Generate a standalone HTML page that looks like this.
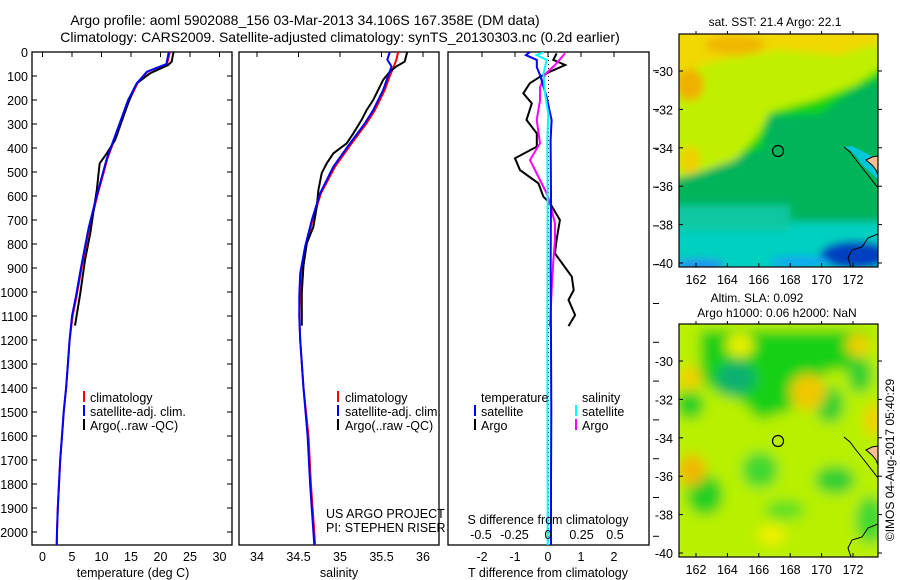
<!DOCTYPE html>
<html><head><meta charset="utf-8"><style>
body{margin:0;background:#fff}
svg{display:block;font-family:"Liberation Sans",sans-serif}
text{fill:#000}
</style></head><body>
<svg id="c" width="900" height="580" viewBox="0 0 900 580">
<defs>
<clipPath id="cp1"><rect x="32" y="52" width="200" height="493"/></clipPath>
<clipPath id="cp2"><rect x="239" y="52" width="200" height="493"/></clipPath>
<clipPath id="cp3"><rect x="448" y="52" width="201" height="493"/></clipPath>
<clipPath id="cm1"><rect x="679" y="34" width="199" height="233"/></clipPath>
<clipPath id="cm2"><rect x="679" y="324" width="199" height="233"/></clipPath>
<filter id="bl" x="-20%" y="-20%" width="140%" height="140%"><feGaussianBlur stdDeviation="4"/></filter>
<filter id="bl2" x="-20%" y="-20%" width="140%" height="140%"><feGaussianBlur stdDeviation="6"/></filter>
</defs>
<text x="305" y="25" font-size="14" text-anchor="middle">Argo profile: aoml 5902088_156 03-Mar-2013 34.106S 167.358E (DM data)</text>
<text x="340" y="42" font-size="14" text-anchor="middle">Climatology: CARS2009. Satellite-adjusted climatology: synTS_20130303.nc (0.2d earlier)</text>

<g id="p1"></g>
<g id="p2"></g>
<g id="p3"></g>

<g>
<g clip-path="url(#cm1)"><g filter="url(#bl)">
<rect x="670" y="25" width="220" height="250" fill="#00b45a"/>
<rect x="670" y="222" width="220" height="50" fill="#00d0c0"/>
<rect x="670" y="205" width="120" height="25" fill="#10c8a0"/>
<ellipse cx="855" cy="255" rx="35" ry="14" fill="#0040c0"/>
<ellipse cx="700" cy="265" rx="25" ry="6" fill="#2090f0"/>
<ellipse cx="800" cy="262" rx="30" ry="6" fill="#10a8f0"/>
<polygon points="670,210 670,175 725,160 762,148 768,116 820,114 850,92 890,75 890,25 670,25" fill="#10d410"/>
<polygon points="670,180 670,25 890,25 890,62 855,85 815,100 770,112 758,135 735,160 700,172" fill="#c0f000"/>
<polygon points="670,25 890,25 890,40 840,55 780,50 720,60 670,75" fill="#f0d800"/>
<ellipse cx="735" cy="45" rx="30" ry="10" fill="#f0b800"/>
<ellipse cx="690" cy="85" rx="14" ry="16" fill="#f0b000"/>
<ellipse cx="690" cy="160" rx="10" ry="14" fill="#f0d000"/>
</g>
<path d="M844,147 L850,150 856,156 862,165 870,172 878,180 878,160 870,155 860,150 852,146 Z" fill="#00c8d8"/>
<path d="M866,160 L872,165 876,170 878,175 878,156 872,157 Z" fill="#f8c090" stroke="#000" stroke-width="1"/>
<path d="M844,147 L850,152 856,160 864,170 878,188" fill="none" stroke="#000" stroke-width="1"/>
<path d="M878,234 L868,238 862,247 852,250 848,258 851,267" fill="none" stroke="#000" stroke-width="1"/>
</g>
<rect x="679" y="34" width="199" height="233" fill="none" stroke="#000" stroke-width="1.2"/>
<circle cx="778" cy="151" r="5.5" fill="none" stroke="#000" stroke-width="1.2"/>
<text x="775" y="26" font-size="12" text-anchor="middle">sat. SST: 21.4 Argo: 22.1</text>
<g id="m1ax"></g>
</g>

<g>
<g clip-path="url(#cm2)"><g filter="url(#bl2)">
<rect x="670" y="315" width="220" height="250" fill="#b8f000"/>
<path d="M700,330 L870,330 860,370 830,370 800,395 790,410 760,420 740,400 720,395 700,380 Z" fill="#18d018"/>
<ellipse cx="736" cy="378" rx="20" ry="16" fill="#10b070"/>
<ellipse cx="690" cy="405" rx="14" ry="14" fill="#20d020"/>
<ellipse cx="830" cy="405" rx="14" ry="18" fill="#30d030"/>
<ellipse cx="705" cy="495" rx="18" ry="20" fill="#20d020"/>
<ellipse cx="760" cy="470" rx="18" ry="18" fill="#40d830"/>
<ellipse cx="835" cy="480" rx="20" ry="14" fill="#30d030"/>
<ellipse cx="785" cy="510" rx="20" ry="10" fill="#60e020"/>
<ellipse cx="860" cy="375" rx="12" ry="18" fill="#30d030"/>
<ellipse cx="870" cy="520" rx="14" ry="24" fill="#40d830"/>
<ellipse cx="808" cy="392" rx="18" ry="18" fill="#f0c800"/>
<ellipse cx="858" cy="345" rx="12" ry="12" fill="#f0d000"/>
<ellipse cx="874" cy="420" rx="10" ry="16" fill="#f0d000"/>
<ellipse cx="692" cy="470" rx="14" ry="16" fill="#f0b800"/>
<ellipse cx="690" cy="378" rx="12" ry="12" fill="#f0d000"/>
<ellipse cx="772" cy="535" rx="14" ry="10" fill="#f0f000"/>
<ellipse cx="740" cy="345" rx="14" ry="12" fill="#e8f000"/>
</g>
<path d="M866,450 L872,455 876,460 878,465 878,446 872,447 Z" fill="#f8c090" stroke="#000" stroke-width="1"/>
<path d="M844,437 L850,442 856,450 864,460 878,478" fill="none" stroke="#000" stroke-width="1"/>
<path d="M878,524 L868,528 862,537 852,540 848,548 851,557" fill="none" stroke="#000" stroke-width="1"/>
</g>
<rect x="679" y="324" width="199" height="233" fill="none" stroke="#000" stroke-width="1.2"/>
<circle cx="778" cy="441" r="5.5" fill="none" stroke="#000" stroke-width="1.2"/>
<text x="757" y="302" font-size="12" text-anchor="middle">Altim. SLA: 0.092</text>
<text x="777" y="317" font-size="12" text-anchor="middle">Argo h1000: 0.06 h2000: NaN</text>
<g id="m2ax"></g>
</g>
<text transform="translate(894,460) rotate(-90)" font-size="12" text-anchor="middle">©IMOS 04-Aug-2017 05:40:29</text>
</svg>
<script>
// ---- data ----
const tempArgoDepth=[0,40,54,89,130,158,214,270,367,422,464,505,575,672,755,867,1005,1140];
const tempArgo=[22.2,21.9,21.3,18.2,16.0,15.4,14.5,13.7,12.3,10.9,9.7,9.5,9.2,8.6,8.1,7.2,6.4,5.5];
const climDepth=[0,50,82,130,200,296,444,597,736,889,1014,1100,1200,1300,1400,1500,1600,1700,1800,1900,2000,2055];
const tempClim=[21.6,21.1,17.8,16.1,14.7,13.2,11.0,9.3,7.9,6.7,5.8,5.1,4.6,4.3,4.0,3.6,3.3,3.0,2.8,2.6,2.45,2.4];
const tempSat=[21.4,21.0,17.7,16.0,14.5,13.1,10.9,9.2,7.8,6.6,5.7,5.0,4.6,4.3,4.0,3.6,3.3,3.0,2.8,2.6,2.45,2.4];
const salArgoDepth=[0,40,60,82,116,158,200,242,283,339,381,422,464,505,575,644,728,797,889,1000,1140];
const salArgo=[35.81,35.78,35.68,35.60,35.52,35.46,35.40,35.32,35.26,35.16,35.08,34.92,34.84,34.78,34.74,34.72,34.68,34.60,34.56,34.54,34.54];
const salDepth=[0,32,60,100,158,242,297,381,478,589,700,811,922,1014,1100,1200,1400,1600,1800,2000,2055];
const salSat=[35.60,35.57,35.62,35.58,35.52,35.40,35.30,35.12,34.92,34.76,34.66,34.58,34.52,34.51,34.51,34.52,34.56,34.61,34.64,34.68,34.69];
const salClim=[35.70,35.68,35.65,35.60,35.54,35.42,35.32,35.14,34.94,34.77,34.67,34.59,34.53,34.52,34.51,34.52,34.56,34.62,34.65,34.69,34.70];
const tdArgoDepth=[6,33,54,82,103,130,172,214,283,339,394,443,492,547,603,630,700,783,839,936,992,1033,1096,1142];
const tdArgo=[0.26,0.16,0.52,0.06,-0.24,-0.55,-0.75,-0.49,-0.65,-0.34,-0.34,-1.0,-0.85,-0.29,-0.14,0.06,0.36,0.26,0.21,0.72,0.78,0.62,0.82,0.62];
const sdArgoDepth=[6,54,92,147,203,283,380,450,506,589,630,714,783,867,978,1144];
const sdArgo=[0.127,0.052,-0.02,-0.06,-0.06,-0.084,-0.06,-0.134,-0.084,-0.01,0.015,0.052,0.052,0.04,0.028,0.015];
const sdSatDepth=[0,13,33,92,175,258,367,600,900,1200,1500,1800,2055];
const sdSat=[-0.03,-0.084,-0.01,-0.035,-0.022,0.002,-0.005,-0.003,-0.004,-0.005,-0.004,-0.003,-0.002];
const tdSatDepth=[0,13,33,63,97,189,283,367,600,900,1200,1500,1800,2055];
const tdSat=[-0.55,-0.67,-0.34,-0.34,-0.24,-0.04,0.11,0.08,0.09,0.08,0.09,0.10,0.09,0.09];
const depthTicks=[0,100,200,300,400,500,600,700,800,900,1000,1100,1200,1300,1400,1500,1600,1700,1800,1900,2000];
const tempTicks=[0,5,10,15,20,25,30];
const salTicks=[34,34.5,35,35.5,36];
const tdTicks=[-2,-1,0,1,2];
const sdTicks=[-0.5,-0.25,0,0.25,0.5];
const sdTickLabels=["-0.5","-0.25","0","0.25","0.5"];
const latTicks=[-30,-32,-34,-36,-38,-40];
const lonTicks=[162,164,166,168,170,172];
// ---- axes ----
const yD=d=>52+d*0.24, xT=t=>42.5+t*5.9, xS=s=>257+(s-34)*83, xTd=t=>548+t*33, xSd=s=>548+s*134;
const lonX=l=>696+(l-162)*15.7, latY=(la,o)=>o+37+(-30-la)*19.2;
const NS='http://www.w3.org/2000/svg';
function mk(tag,at,parent){const e=document.createElementNS(NS,tag);for(const k in at)e.setAttribute(k,at[k]);parent.appendChild(e);return e;}
function line(par,xs,ds,fx,color,name,w){
 const d=xs.map((v,i)=>(i?'L':'M')+fx(v).toFixed(1)+','+yD(ds[i]).toFixed(1)).join(' ');
 const p=mk('path',{d:d,fill:'none',stroke:color,'stroke-width':w||2,'stroke-linejoin':'miter'},par);
 
 
}
function txt(par,x,y,s,anchor,name,size){const t=mk('text',{x:x,y:y,'font-size':size||12,'text-anchor':anchor||'start'},par);t.textContent=s;
 
 return t;}
function frame(par,x,w,cp){
 mk('rect',{x:x,y:52,width:w,height:493,fill:'none',stroke:'#000','stroke-width':1.3},par);
 return mk('g',{'clip-path':'url(#'+cp+')'},par);
}
const p1=document.getElementById('p1'),p2=document.getElementById('p2'),p3=document.getElementById('p3');
// panel 1
const g1=frame(p1,32,200,'cp1');
depthTicks.forEach(d=>{mk('line',{x1:32,x2:37,y1:yD(d),y2:yD(d),stroke:'#000'},p1);mk('line',{x1:227,x2:232,y1:yD(d),y2:yD(d),stroke:'#000'},p1);
 txt(p1,28,yD(d)+5,String(d),'end','depth-tick-label',12.5);});
tempTicks.forEach(t=>{mk('line',{x1:xT(t),x2:xT(t),y1:52,y2:57,stroke:'#000'},p1);txt(p1,xT(t),561,String(t),'middle','temp-tick-label',12.5);});
txt(p1,133,577,'temperature (deg C)','middle','x-axis-title-temperature',12.5);
line(g1,tempClim,climDepth,xT,'#f00','temp-climatology-line');
line(g1,tempArgo,tempArgoDepth,xT,'#000','temp-argo-line');
line(g1,tempSat,climDepth,xT,'#00f','temp-satellite-line');
[['#f00','climatology'],['#00f','satellite-adj. clim.'],['#000','Argo(..raw -QC)']].forEach((r,i)=>{
 mk('rect',{x:83,y:391+i*14,width:2,height:11,fill:r[0]},p1);txt(p1,90,402+i*14,r[1],'start','legend-entry',12.5);});
// panel 2
const g2=frame(p2,239,200,'cp2');
salTicks.forEach(s=>{mk('line',{x1:xS(s),x2:xS(s),y1:52,y2:57,stroke:'#000'},p2);txt(p2,xS(s),561,String(s),'middle','salinity-tick-label',12.5);});
txt(p2,339,577,'salinity','middle','x-axis-title-salinity',12.5);
line(g2,salClim,salDepth,xS,'#f00','sal-climatology-line');
line(g2,salArgo,salArgoDepth,xS,'#000','sal-argo-line');
line(g2,salSat,salDepth,xS,'#00f','sal-satellite-line');
[['#f00','climatology'],['#00f','satellite-adj. clim.'],['#000','Argo(..raw -QC)']].forEach((r,i)=>{
 mk('rect',{x:337,y:391+i*14,width:2,height:11,fill:r[0]},p2);txt(p2,345,402+i*14,r[1],'start','legend-entry',12.5);});
txt(p2,326,518,'US ARGO PROJECT','start','project-label',12.5);
txt(p2,326,532,'PI: STEPHEN RISER','start','pi-label',12.5);
// panel 3
const g3=frame(p3,448,201,'cp3');
tdTicks.forEach(t=>{mk('line',{x1:xTd(t),x2:xTd(t),y1:52,y2:57,stroke:'#000'},p3);txt(p3,xTd(t),561,String(t),'middle','tdiff-tick-label',12.5);});
sdTicks.forEach((s,i)=>txt(p3,xSd(s),539,sdTickLabels[i],'middle','sdiff-tick-label',12.5));
txt(p3,548,524,'S difference from climatology','middle','sdiff-axis-title',12.5);
txt(p3,548,577,'T difference from climatology','middle','tdiff-axis-title',12.5);
for(let y=70.7;y<560;y+=38.8)mk('line',{x1:653,x2:659,y1:y,y2:y,stroke:'#000'},p3);
mk('line',{x1:548.5,x2:548.5,y1:52,y2:545,stroke:'#000','stroke-dasharray':'1,3'},g3);
line(g3,tdArgo,tdArgoDepth,xTd,'#000','tdiff-argo-line');
line(g3,sdArgo,sdArgoDepth,xSd,'#f0f','sdiff-argo-line');
line(g3,tdSat,tdSatDepth,xTd,'#00f','tdiff-satellite-line');
line(g3,sdSat,sdSatDepth,xSd,'#0ff','sdiff-satellite-line');
txt(p3,481,402,'temperature','start','legend-header-temperature',12.5);
txt(p3,582,402,'salinity','start','legend-header-salinity',12.5);
[['#00f','satellite',474,481],['#000','Argo',474,481],['#0ff','satellite',575,582],['#f0f','Argo',575,582]].forEach((r,i)=>{
 const row=i%2;mk('rect',{x:r[2],y:405+row*14,width:2,height:11,fill:r[0]},p3);txt(p3,r[3],416+row*14,r[1],'start','legend-entry',12.5);});
// map axes
[[document.getElementById('m1ax'),34],[document.getElementById('m2ax'),324]].forEach(([g,o])=>{
 latTicks.forEach(la=>{const y=latY(la,o);mk('line',{x1:679,x2:683,y1:y,y2:y,stroke:'#000'},g);mk('line',{x1:878,x2:882,y1:y,y2:y,stroke:'#000'},g);
  txt(g,673,y+5,String(la),'end','lat-tick-label',12.5);});
 lonTicks.forEach(l=>{const x=lonX(l);mk('line',{x1:x,x2:x,y1:o-3,y2:o,stroke:'#000'},g);mk('line',{x1:x,x2:x,y1:o+229,y2:o+233,stroke:'#000'},g);
  txt(g,x,o+250,String(l),'middle','lon-tick-label',12.5);});
});
</script>
</body></html>
